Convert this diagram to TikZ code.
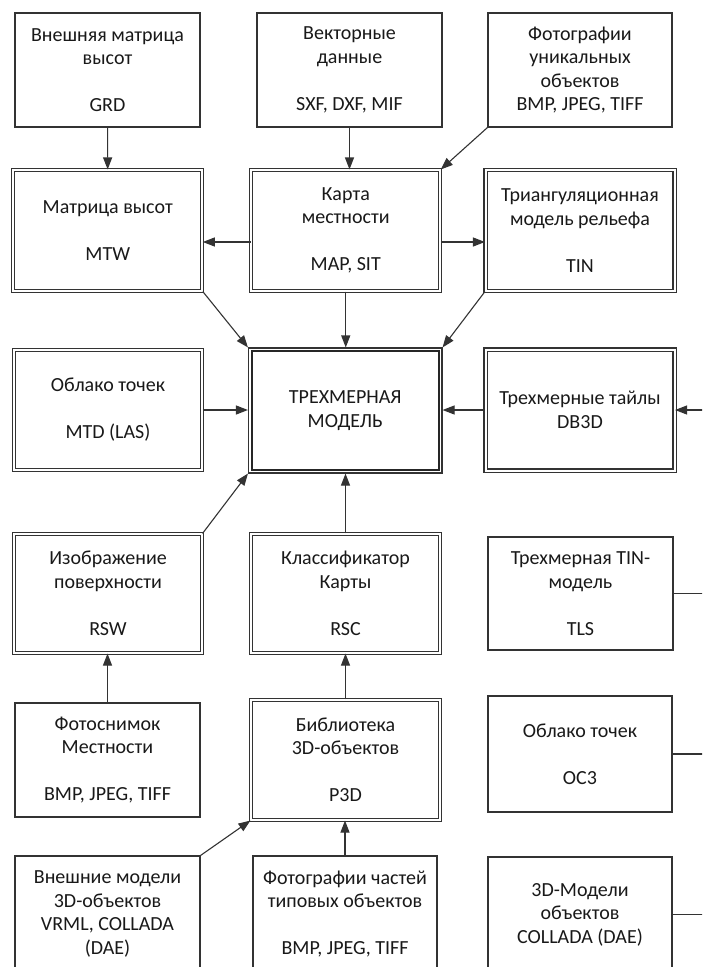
\documentclass[tikz,border=0pt]{standalone}
\usepackage{fontspec}
\setmainfont{Carlito}
\usetikzlibrary{arrows.meta}

\begin{document}
\begin{tikzpicture}[
  x=1pt, y=-1pt,
  font=\fontsize{20}{23.5}\selectfont,
  fmt/.style={
    draw=black!80,
    line width=1.1pt,
    text=black!90,
    align=center,
    minimum width=185pt,
    minimum height=114pt,
    inner sep=0pt
  },
  store/.style={
    fmt,
    double,
    double distance=2pt,
    minimum width=189pt,
    minimum height=121pt
  },
  core/.style={
    fmt,
    minimum width=193.5pt,
    minimum height=125pt
  },
  arr/.style={-{Triangle[length=12pt,width=9pt]}, line width=1.1pt, draw=black!80},
  link/.style={line width=1.1pt, draw=black!80}
]

\useasboundingbox (0,0) rectangle (702,967);
\fill[white] (0,0) rectangle (702,967);
\clip (0,0) rectangle (702,967);

% sources
\node[fmt] (ext) at (107.5,70) {Внешняя матрица\\высот\\[23.5pt]GRD};
\node[fmt] (vec) at (349.5,70) {Векторные\\данные\\[23.5pt]SXF, DXF, MIF};
\node[fmt, minimum width=184pt] (photo) at (580,70)
  {Фотографии\\уникальных\\объектов\\BMP, JPEG, TIFF};

% map formats
\node[store] (mtw) at (107.75,230.5) {Матрица высот\\[23.5pt]MTW};
\node[store] (map) at (345.75,230.5) {Карта\\местности\\[23.5pt]MAP, SIT};
\node[store] (tin) at (580,230.5) {Триангуляционная\\модель рельефа\\[23.5pt]TIN};

\node[store, minimum width=188pt, minimum height=120pt] (cloud) at (108,410)
  {Облако точек\\[23.5pt]MTD (LAS)};
\node[core] (model) at (345.25,410.5) {ТРЕХМЕРНАЯ\\МОДЕЛЬ};
\draw[line width=2pt, draw=black!85]
  ([shift={(4,4)}]model.north west) rectangle ([shift={(-4,-4)}]model.south east);
\node[store] (db3d) at (580,410) {Трехмерные тайлы\\DB3D};

\node[store, minimum width=188pt, minimum height=119pt] (rsw) at (108,593.5)
  {Изображение\\поверхности\\[23.5pt]RSW};
\node[store, minimum height=119pt] (rsc) at (345.5,593.5)
  {Классификатор\\Карты\\[23.5pt]RSC};
\node[fmt, minimum height=113pt] (tls) at (580.5,593.5)
  {Трехмерная TIN-\\модель\\[23.5pt]TLS};

\node[fmt] (foto) at (107.5,760) {Фотоснимок\\Местности\\[23.5pt]BMP, JPEG, TIFF};
\node[store, minimum height=120pt] (p3d) at (345.5,760)
  {Библиотека\\3D-объектов\\[23.5pt]P3D};
\node[fmt, minimum width=184pt, minimum height=116pt] (oc3) at (580,754)
  {Облако точек\\[23.5pt]OC3};

\node[fmt, minimum height=116pt] (vrml) at (107.5,914)
  {Внешние модели\\3D-объектов\\VRML, COLLADA\\(DAE)};
\node[fmt, minimum width=184pt, minimum height=116pt] (parts) at (345,914)
  {Фотографии частей\\типовых объектов\\[23.5pt]BMP, JPEG, TIFF};
\node[fmt, minimum width=184pt, minimum height=115pt] (models3d) at (580,914.5)
  {3D-Модели\\объектов\\COLLADA (DAE)};

% off-page bus on the right
\coordinate (bus) at (720,410);

\draw[arr] (ext) -- (mtw);
\draw[arr] (vec.south) -- (vec.south |- map.north);
\draw[arr] (photo.south west) -- (map.north east);
\draw[arr] ([yshift=-11.5pt]map.west) -- ([yshift=-11.5pt]mtw.east);
\draw[arr] ([yshift=-11.5pt]map.east) -- ([yshift=-11.5pt]tin.west);

\draw[arr] (mtw.south east) -- (model.north west);
\draw[arr] (map.south) -- (map.south |- model.north);
\draw[arr] (tin.south west) -- (model.north east);
\draw[arr] (cloud.east) -- (cloud.east -| model.west);
\draw[arr] (db3d.west) -- (db3d.west -| model.east);
\draw[arr] (bus) -- (db3d.east);

\draw[arr] (rsw.north east) -- (model.south west);
\draw[arr] (rsc.north) -- (rsc.north |- model.south);
\draw[arr] (foto.north) -- (foto.north |- rsw.south);
\draw[arr] (p3d.north) -- (p3d.north |- rsc.south);
\draw[arr] (vrml.north east) -- (p3d.south west);
\draw[arr] (parts.north) -- (parts.north |- p3d.south);

\draw[link] (tls.east) -- (tls.east -| bus);
\draw[link] (oc3.east) -- (oc3.east -| bus);
\draw[link] (models3d.east) -- (models3d.east -| bus);

\end{tikzpicture}
\end{document}
